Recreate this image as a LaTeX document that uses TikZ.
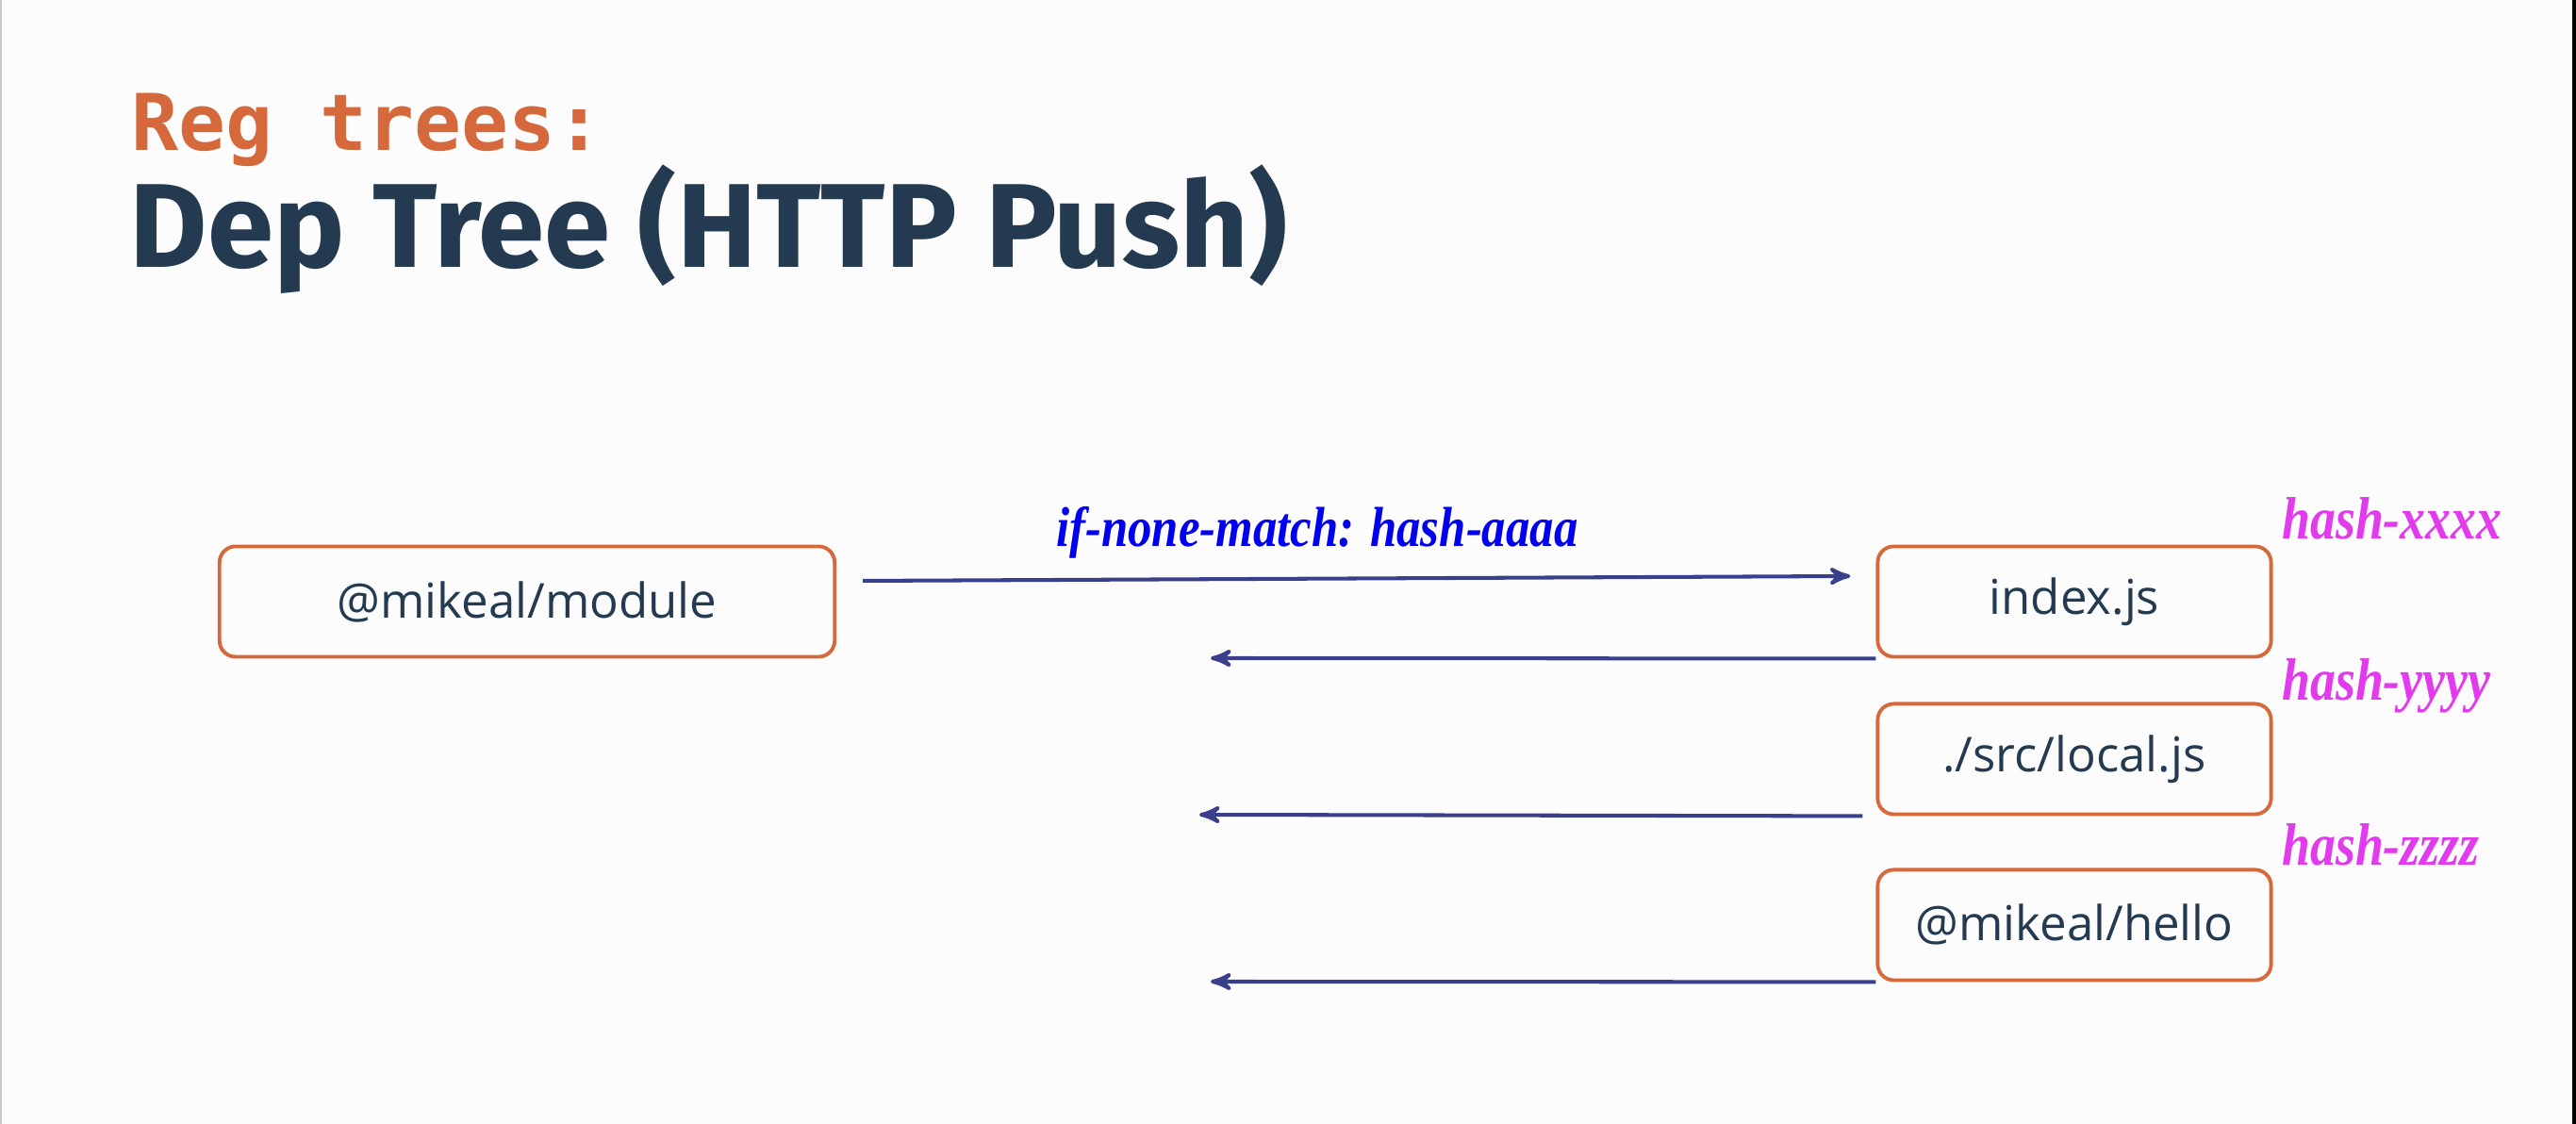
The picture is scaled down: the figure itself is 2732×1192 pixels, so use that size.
\documentclass[tikz,border=0pt]{standalone}
\usepackage{fontspec}
\usepackage{xcolor}
\usepackage{tikz}
\usetikzlibrary{arrows, positioning, calc}
\setmainfont{Open Sans}
\newfontfamily\titlefont{Fira Sans}
\newfontfamily\kickerfont{DejaVu Sans Mono}
\newfontfamily\handfont[FakeStretch=0.85]{Liberation Serif}
\definecolor{navy}{HTML}{233A51}
\definecolor{rust}{HTML}{D5693C}
\definecolor{indigo}{HTML}{3A3F8C}
\definecolor{hashpink}{HTML}{E23BEE}
\definecolor{reqblue}{HTML}{0000EE}
\tikzstyle{file} = [draw=rust, rectangle, rounded corners=0.17cm, line width=1.1pt, minimum height=1.17cm, text=navy, font=\fontsize{14.5}{18}\selectfont]
\tikzstyle{hash} = [anchor=base west, inner sep=0pt, text=hashpink, font=\handfont\bfseries\itshape\fontsize{18}{21}\selectfont]
\tikzstyle{arrow} = [draw=indigo, -stealth', line width=1.15pt]

\begin{document}
\begin{tikzpicture}[x=0.01cm, y=-0.01cm]
    \fill[white!99!black] (0,0) rectangle (2732,1192);
    \useasboundingbox (0,0) rectangle (2732,1192);
    \fill[black!22] (0,0) rectangle (2,1192);
    \fill[black] (2728,0) rectangle (2732,1192);

    % heading
    \node (kicker) [anchor=base west, inner sep=0pt, text=rust] at (139,160) {\kickerfont\bfseries\fontsize{23.6}{28}\selectfont Reg trees:};
    \node (title) [anchor=base west, inner sep=0pt, text=navy] at (137,284) {\titlefont\bfseries\fontsize{36}{40}\selectfont Dep Tree (HTTP Push)};

    % files
    \node (module) [file, minimum width=6.52cm] at (559,638) {@mikeal/module};
    \node (index) [file, minimum width=4.17cm] at (2200,638) {index.js};
    \node (local) [file, minimum width=4.17cm, below=0.46cm of index] {./src/local.js};
    \node (hello) [file, minimum width=4.17cm, below=0.55cm of local] {@mikeal/hello};

    \node (hx) [hash] at ([xshift=0.09cm, yshift=0.06cm]index.north east) {hash-xxxx};
    \node (hy) [hash] at ([xshift=0.09cm, yshift=0.02cm]local.north east) {hash-yyyy};
    \node (hz) [hash] at ([xshift=0.09cm, yshift=0.03cm]hello.north east) {hash-zzzz};

    % request
    \draw [arrow] ([xshift=0.28cm, yshift=0.22cm]module.east) -- ([xshift=-0.27cm, yshift=0.27cm]index.west)
        node (req) [pos=0.46, above=0.08cm, text=reqblue, font=\handfont\bfseries\itshape\fontsize{17}{20}\selectfont] {if-none-match: hash-aaaa};

    % responses
    \coordinate (back1) at (1284,698);
    \coordinate (back2) at (1272,864);
    \coordinate (back3) at (1284,1041);
    \draw [arrow] (index.south west) -- (back1);
    \draw [arrow] ([xshift=-0.14cm]local.south west) -- (back2);
    \draw [arrow] (hello.south west) -- (back3);
\end{tikzpicture}
\end{document}
